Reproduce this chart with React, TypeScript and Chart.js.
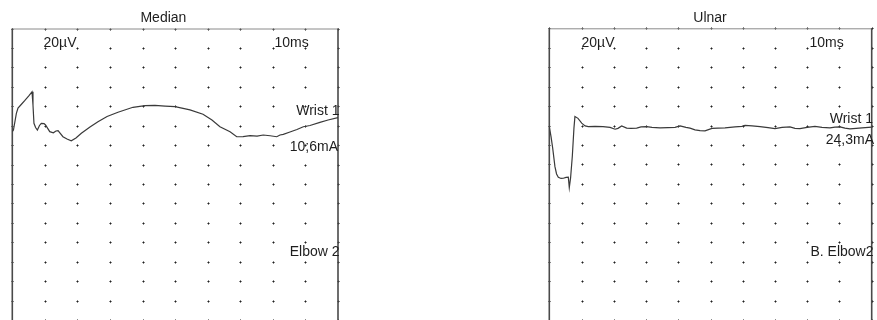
import React, { useEffect, useRef } from "react";
import { Chart, registerables } from "chart.js";

Chart.register(...registerables);

// Time axis in ms (2 ms per division, 10 divisions); amplitude in µV (20 µV per division)
const gridTimes = [0, 2, 4, 6, 8, 10, 12, 14, 16, 18, 20];
const gridAmps = [0, -20, -40, -60, -80, -100, -120, -140, -160, -180, -200, -220, -240, -260, -280, -300];

const medianTime = [
  0, 0.07, 0.25, 0.35, 0.52, 0.76, 1.0, 1.21, 1.27, 1.33, 1.43, 1.54, 1.67, 1.78, 1.95, 2.04, 2.3, 2.52,
  2.68, 2.81, 3.11, 3.36, 3.62, 3.91, 4.24, 4.77, 5.26, 5.82, 6.49, 7.41, 8.15, 8.76, 9.38, 9.99, 10.91,
  11.71, 12.26, 12.75, 13.37, 13.78, 14.17, 14.6, 15.03, 15.41, 15.83, 16.24, 16.44, 16.64, 17.05, 17.48,
  17.87, 18.28, 18.89, 19.39, 20,
];
const medianAmp = [
  -106.2, -104.5, -87.3, -81.8, -78.7, -74.3, -69.5, -65.1, -78.7, -97.6, -101.9, -104.5, -99.8, -97.6,
  -97.8, -99.3, -106.2, -107.3, -105.5, -105.2, -111.4, -113.7, -115.5, -112.7, -107.9, -101.4, -95.9,
  -90.6, -86.2, -81.1, -79.3, -79.1, -79.8, -80.5, -83.8, -88.3, -94.2, -101.1, -106.2, -111.4, -111.2,
  -110.3, -110.8, -109.6, -110.4, -111.4, -109.6, -108.9, -106.5, -104.0, -101.1, -99.8, -96.6, -94.2, -91.8,
];

const ulnarTime = [
  0, 0.11, 0.21, 0.35, 0.45, 0.56, 0.73, 0.87, 1.04, 1.18, 1.24, 1.32, 1.43, 1.53, 1.59, 1.78, 2.01, 2.22,
  2.42, 2.84, 3.33, 3.77, 4.08, 4.26, 4.49, 4.8, 5.07, 5.42, 5.69, 6.04, 6.37, 6.87, 7.36, 7.8, 8.11, 8.48,
  8.73, 9.04, 9.35, 9.66, 10.09, 10.47, 10.9, 11.52, 11.95, 12.14, 12.58, 13.07, 13.57, 14.0, 14.44, 14.93,
  15.24, 15.55, 15.99, 16.48, 16.92, 17.41, 17.72, 18.03, 18.34, 18.65, 19.03, 19.4, 20,
];
const ulnarAmp = [
  -101.1, -111.7, -123.3, -142.3, -149.8, -153.2, -154.4, -154.2, -153.4, -153.2, -163.9, -153.9, -131.1,
  -102.4, -90.8, -92.6, -97.6, -100.4, -101.1, -100.9, -101.1, -101.9, -103.8, -102.9, -100.4, -102.7,
  -102.9, -102.7, -101.4, -101.1, -101.9, -102.4, -102.2, -101.9, -100.4, -101.9, -102.7, -104.5, -105.3,
  -105.5, -102.9, -102.7, -102.4, -101.4, -100.9, -99.8, -100.4, -101.1, -102.2, -103.1, -101.9, -101.4,
  -102.9, -103.1, -101.9, -100.9, -101.9, -102.4, -101.7, -101.4, -102.7, -103.4, -102.9, -102.4, -101.7,
];

const medianLabels = ["20µV", "10ms", "Wrist 1", "10;6mA", "Elbow 2"];
const ulnarLabels = ["20µV", "10ms", "Wrist 1", "24,3mA", "B. Elbow2"];

const FONT = '14px "Liberation Sans", Arial, sans-serif';

type LabelPos = { x: number; y: number; align: CanvasTextAlign };

type PanelProps = {
  left: number;
  width: number;
  padding: { left: number; right: number; top: number; bottom: number };
  title: string;
  titleX: number;
  times: number[];
  amps: number[];
  labels: string[];
  labelPos: LabelPos[];
};

const decorPlugin = {
  id: "ncsDecor",
  beforeDatasetsDraw(chart: any, _args: any, opts: any) {
    const { ctx, chartArea } = chart;
    const xs = chart.scales.x;
    const ys = chart.scales.y;
    ctx.save();
    // grid dots
    for (const t of gridTimes) {
      for (const a of gridAmps) {
        const px = Math.round(xs.getPixelForValue(t));
        const py = Math.round(ys.getPixelForValue(a));
        ctx.fillStyle = "rgba(40,40,40,0.55)";
        ctx.fillRect(px - 1, py, 3, 1);
        ctx.fillRect(px, py - 1, 1, 3);
        ctx.fillStyle = "rgba(20,20,20,0.8)";
        ctx.fillRect(px, py, 1, 1);
      }
    }
    // borders
    ctx.strokeStyle = "#8a8a8a";
    ctx.lineWidth = 1;
    ctx.beginPath();
    ctx.moveTo(chartArea.left, chartArea.top + 0.5);
    ctx.lineTo(chartArea.right, chartArea.top + 0.5);
    ctx.stroke();
    ctx.strokeStyle = "#4a4a4a";
    ctx.lineWidth = 1.6;
    ctx.beginPath();
    ctx.moveTo(chartArea.left, chartArea.top);
    ctx.lineTo(chartArea.left, chartArea.bottom + 2);
    ctx.moveTo(chartArea.right, chartArea.top);
    ctx.lineTo(chartArea.right, chartArea.bottom + 2);
    ctx.stroke();
    ctx.restore();
  },
  afterDraw(chart: any, _args: any, opts: any) {
    const { ctx } = chart;
    ctx.save();
    ctx.font = FONT;
    ctx.fillStyle = "#1e1e1e";
    ctx.textBaseline = "alphabetic";
    ctx.textAlign = "center";
    ctx.fillText(opts.title, opts.titleX, 21.5);
    (opts.labels as string[]).forEach((txt, i) => {
      const p = opts.labelPos[i];
      ctx.textAlign = p.align;
      ctx.fillText(txt, p.x, p.y);
    });
    ctx.restore();
  },
};

function Panel(props: PanelProps) {
  const ref = useRef<HTMLCanvasElement | null>(null);
  useEffect(() => {
    if (!ref.current) return;
    const chart = new Chart(ref.current, {
      type: "line",
      data: {
        datasets: [
          {
            data: props.times.map((t, i) => ({ x: t, y: props.amps[i] })),
            borderColor: "#3a3a3a",
            borderWidth: 1.2,
            pointRadius: 0,
            tension: 0,
            fill: false,
          },
        ],
      },
      options: {
        responsive: false,
        animation: false,
        devicePixelRatio: 1,
        layout: { padding: props.padding },
        scales: {
          x: { type: "linear", min: 0, max: 20, display: false },
          y: { type: "linear", min: -300, max: 0, display: false },
        },
        plugins: {
          legend: { display: false },
          tooltip: { enabled: false },
          ncsDecor: {
            title: props.title,
            titleX: props.titleX,
            labels: props.labels,
            labelPos: props.labelPos,
          },
        } as any,
      },
      plugins: [decorPlugin],
    });
    return () => chart.destroy();
  }, []);
  return (
    <canvas
      ref={ref}
      width={props.width}
      height={320}
      style={{ position: "absolute", left: props.left, top: 0, width: props.width, height: 320 }}
    />
  );
}

export default function App() {
  return (
    <div
      style={{
        position: "fixed",
        left: 0,
        top: 0,
        width: 877,
        height: 320,
        background: "#fff",
        overflow: "hidden",
      }}
    >
      <Panel
        left={0}
        width={440}
        padding={{ left: 12.3, right: 102, top: 28.5, bottom: 0 }}
        title="Median"
        titleX={163.4}
        times={medianTime}
        amps={medianAmp}
        labels={medianLabels}
        labelPos={[
          { x: 43.5, y: 47, align: "left" },
          { x: 274.5, y: 46.5, align: "left" },
          { x: 339.5, y: 115, align: "right" },
          { x: 338, y: 150.5, align: "right" },
          { x: 339.5, y: 255.5, align: "right" },
        ]}
      />
      <Panel
        left={440}
        width={437}
        padding={{ left: 109.3, right: 5.3, top: 28.3, bottom: 0 }}
        title="Ulnar"
        titleX={270}
        times={ulnarTime}
        amps={ulnarAmp}
        labels={ulnarLabels}
        labelPos={[
          { x: 141.5, y: 46.5, align: "left" },
          { x: 369.5, y: 46.5, align: "left" },
          { x: 433, y: 123.3, align: "right" },
          { x: 434, y: 144, align: "right" },
          { x: 433.5, y: 255.5, align: "right" },
        ]}
      />
    </div>
  );
}
